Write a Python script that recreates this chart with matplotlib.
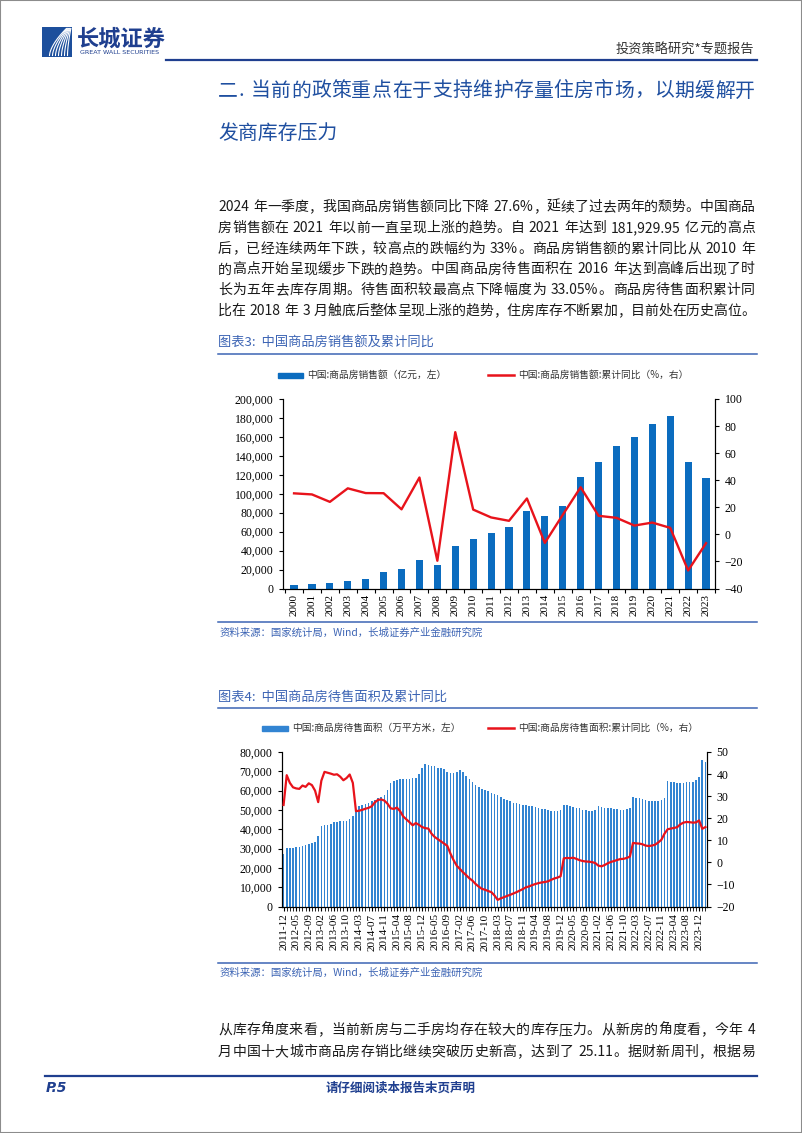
import re
import numpy as np
import matplotlib
matplotlib.use('Agg')
import matplotlib.pyplot as plt
from matplotlib.patches import Rectangle
from matplotlib.lines import Line2D
from matplotlib.ticker import FuncFormatter

plt.rcParams['font.family'] = ['Noto Sans CJK SC', 'DejaVu Sans']

# ---------------- data ----------------
years = [str(y) for y in range(2000, 2024)]
sales = [3935, 4863, 6032, 7956, 10376, 17576, 20826, 29889, 25068, 44355,
         52721, 58589, 64456, 81428, 76292, 87281, 117627, 133701, 149973,
         159725, 173613, 181930, 133308, 116622]
sales_yoy = [30.3, 29.5, 24.0, 34.0, 30.5, 30.4, 18.5, 42.0, -19.5, 75.5,
             18.3, 12.5, 10.0, 26.5, -6.3, 14.4, 34.8, 13.7, 12.2, 6.5,
             8.7, 4.8, -26.7, -6.5]

months = ['2011-12'] + [f'{y}-{m:02d}' for y in range(2012, 2024) for m in range(2, 13)] \
         + ['2024-02', '2024-03']
stock = [27300, 30200, 30300, 30400, 30700, 31000, 31300, 31600, 32200, 32700,
         33500, 36500, 41800, 42000, 42200, 42700, 43500, 44000, 44100, 44100,
         44200, 45400, 47000, 49500, 52000, 52500, 53000, 53700, 54500, 55000,
         56000, 56600, 57500, 60500, 63900, 65000, 65600, 66000, 65900, 66100,
         66200, 66300, 66700, 68600, 71800, 73900, 73400, 72900, 72500, 71900,
         71600, 71000, 69800, 69300, 69100, 69500, 70600, 69400, 67500, 65800,
         64400, 63000, 62000, 61000, 60200, 59600, 58900, 58400, 57600, 56600,
         55800, 55000, 54400, 53800, 53400, 53000, 52600, 52400, 52200, 51800,
         51500, 51000, 50700, 50300, 49900, 49600, 49400, 49200, 49800, 52700,
         52500, 52000, 51600, 51200, 50800, 50200, 49900, 49600, 49600, 49900,
         51800, 51500, 51200, 51000, 50800, 50600, 50300, 50000, 50000, 50300,
         51000, 56700, 56200, 56000, 55600, 55200, 54800, 54600, 54500, 54800,
         55300, 56400, 65200, 64600, 64300, 64200, 64200, 64100, 64300, 64500,
         64300, 65400, 67300, 76000, 74800]
stock_yoy = [26.0, 39.5, 36.0, 34.0, 33.5, 33.3, 34.8, 34.2, 35.8, 35.0,
             32.5, 27.3, 37.0, 41.0, 40.6, 40.2, 39.7, 39.9, 38.8, 37.2,
             38.2, 39.8, 36.0, 23.2, 23.4, 23.8, 24.3, 24.7, 25.4, 27.2,
             28.3, 28.5, 28.0, 26.6, 24.5, 24.2, 24.8, 23.2, 20.8, 19.5,
             18.2, 16.8, 17.8, 17.0, 16.0, 15.5, 15.3, 13.0, 11.5, 10.5,
             9.5, 8.5, 7.5, 4.0, 1.0, -1.5, -3.0, -4.5, -5.8, -7.2,
             -8.3, -9.8, -11.0, -12.0, -12.4, -13.0, -13.5, -15.0, -17.0, -16.3,
             -15.8, -15.2, -14.7, -14.1, -13.5, -12.8, -12.1, -11.3, -10.9, -10.3,
             -9.8, -9.4, -9.1, -8.9, -8.6, -7.9, -7.3, -6.9, -6.3, 1.8,
             2.0, 1.9, 2.1, 1.6, 1.0, 0.6, 0.4, 0.3, 0.1, -0.3,
             -1.5, -1.8, -1.2, -0.4, 0.2, 0.6, 1.1, 1.5, 1.6, 2.0,
             2.6, 8.8, 8.6, 8.5, 8.2, 7.6, 7.4, 7.6, 8.0, 9.0,
             10.2, 13.0, 15.0, 15.3, 15.6, 15.9, 17.2, 18.0, 18.3, 18.2,
             18.0, 18.1, 19.0, 15.2, 16.0]

para1 = [
    '2024 年一季度，我国商品房销售额同比下降 27.6%，延续了过去两年的颓势。中国商品',
    '房销售额在 2021 年以前一直呈现上涨的趋势。自 2021 年达到 181,929.95 亿元的高点',
    '后，已经连续两年下跌，较高点的跌幅约为 33%。商品房销售额的累计同比从 2010 年',
    '的高点开始呈现缓步下跌的趋势。中国商品房待售面积在 2016 年达到高峰后出现了时',
    '长为五年去库存周期。待售面积较最高点下降幅度为 33.05%。商品房待售面积累计同',
    '比在 2018 年 3 月触底后整体呈现上涨的趋势，住房库存不断累加，目前处在历史高位。',
]
para2 = [
    '从库存角度来看，当前新房与二手房均存在较大的库存压力。从新房的角度看，今年 4',
    '月中国十大城市商品房存销比继续突破历史新高，达到了 25.11。据财新周刊，根据易',
]

# ---------------- page ----------------
W, H = 802, 1133
NAVY = '#1f3f8f'
TBLUE = '#3c64b4'
BAR1 = '#0b6cbf'
BAR2 = '#3284d2'
RED = '#e8131b'
SERIF = ['Liberation Serif', 'DejaVu Serif']

fig = plt.figure(figsize=(8.02, 11.33), dpi=100)
renderer = fig.canvas.get_renderer()


def fx(x):
    return x / W


def fy(y):
    return 1 - y / H


def hline(x0, x1, y, color, lw):
    fig.add_artist(Line2D([fx(x0), fx(x1)], [fy(y), fy(y)], color=color, lw=lw))


def justify(line, y, x0=218, x1=755, size=10, color='#1a1a1a', weight='normal'):
    tokens = re.findall(r'[0-9A-Za-z.,%]+| |.', line)
    texts, widths = [], []
    for t in tokens:
        if t == ' ':
            texts.append(None)
            widths.append(size * 0.3 * 100 / 72)
            continue
        tx = fig.text(0, fy(y), t, fontsize=size, color=color, va='center', ha='left',
                      fontweight=weight)
        texts.append(tx)
        widths.append(tx.get_window_extent(renderer).width)
    slack = (x1 - x0) - sum(widths)
    gap = slack / max(len(tokens) - 1, 1)
    x = x0
    for tx, w in zip(texts, widths):
        if tx is not None:
            tx.set_x(fx(x))
        x += w + gap


# border
fig.add_artist(Rectangle((0, 0), 1, 1, transform=fig.transFigure, fill=False,
                         ec='#8c8c8c', lw=1.5))

# logo
lax = fig.add_axes([fx(42), fy(57), fx(30), 30 / H])
lax.set_xlim(0, 1)
lax.set_ylim(0, 1)
lax.axis('off')
lax.add_patch(Rectangle((0, 0), 1, 1, color='#1d4f9c'))
t = np.linspace(0, 1, 30)
for k in range(7):
    off = 0.25 + k * 0.1
    lax.plot(off + 0.75 * t ** 1.6 * (1 - off), 0.05 + 0.9 * t, color='white', lw=0.8)
fig.text(fx(77), fy(39), '长城证券', fontsize=16, fontweight='bold', color=NAVY,
         va='center', ha='left')
fig.text(fx(80), fy(53), 'GREAT WALL SECURITIES', fontsize=4.6, color=NAVY,
         va='center', ha='left', family=['DejaVu Sans'])
fig.text(fx(754), fy(50), '投资策略研究*专题报告', fontsize=9.5, color='#333333',
         va='center', ha='right')
hline(166, 757, 59.5, NAVY, 1.6)

# heading
justify('二. 当前的政策重点在于支持维护存量住房市场，以期缓解开', 91, size=14.3,
        color='#1f4fa0', weight='medium')
fig.text(fx(218), fy(133), '发商库存压力', fontsize=14.3, color='#1f4fa0',
         fontweight='medium', va='center', ha='left')

for i, line in enumerate(para1):
    justify(line, 207 + i * 20.8)

# ---------------- chart 1 ----------------
fig.text(fx(218), fy(342), '图表3:  中国商品房销售额及累计同比', fontsize=9.5,
         color=TBLUE, va='center', ha='left')
hline(218, 757, 353.5, TBLUE, 1.1)
fig.add_artist(Rectangle((fx(278), fy(378)), fx(25), 5.5 / H, transform=fig.transFigure,
                         color=BAR1))
fig.text(fx(307), fy(375), '中国:商品房销售额（亿元，左）', fontsize=7, color='#333333',
         va='center', ha='left')
hline(488, 514, 375, RED, 1.8)
fig.text(fx(518), fy(375), '中国:商品房销售额:累计同比（%，右）', fontsize=7,
         color='#333333', va='center', ha='left')

ax1 = fig.add_axes([fx(283.3), fy(588.5), fx(715 - 283.3), (588.5 - 399) / H])
xs = np.arange(len(years))
ax1.bar(xs, sales, width=0.4, color=BAR1, zorder=2)
ax1.set_ylim(0, 200000)
ax1.set_yticks(range(0, 200001, 20000))
ax1.yaxis.set_major_formatter(FuncFormatter(lambda v, p: f'{int(v):,}'))
ax1.set_xlim(-0.6, 23.45)
ax1.set_xticks(xs)
ax1.set_xticklabels(years, rotation=90)
ax1.set_xticks(np.arange(-0.5, 24, 1), minor=True)
ax1.tick_params(axis='x', which='major', length=0, pad=4, labelsize=8,
                labelfontfamily=SERIF)
ax1.tick_params(axis='x', which='minor', length=3, width=0.8)
ax1.tick_params(axis='y', length=3, width=0.8, labelsize=8.5, labelfontfamily=SERIF,
                pad=4)
ax1.spines['top'].set_visible(False)

ax1b = ax1.twinx()
ax1b.plot(xs, sales_yoy, color=RED, lw=1.7, zorder=3)
ax1b.set_ylim(-40, 100)
ax1b.set_yticks(range(-40, 101, 20))
ax1b.tick_params(axis='y', length=3, width=0.8, labelsize=8.5, labelfontfamily=SERIF,
                 pad=4)
ax1b.spines['top'].set_visible(False)

hline(218, 757, 622, TBLUE, 1.1)
fig.text(fx(220), fy(633), '资料来源：国家统计局，Wind，长城证券产业金融研究院',
         fontsize=7.5, color=TBLUE, va='center', ha='left')

# ---------------- chart 2 ----------------
fig.text(fx(218), fy(697), '图表4:  中国商品房待售面积及累计同比', fontsize=9.5,
         color=TBLUE, va='center', ha='left')
hline(218, 757, 708, TBLUE, 1.1)
fig.add_artist(Rectangle((fx(262), fy(731)), fx(26), 5.5 / H, transform=fig.transFigure,
                         color=BAR2))
fig.text(fx(292), fy(728), '中国:商品房待售面积（万平方米，左）', fontsize=7,
         color='#333333', va='center', ha='left')
hline(488, 514, 728, RED, 1.8)
fig.text(fx(518), fy(728), '中国:商品房待售面积:累计同比（%，右）', fontsize=7,
         color='#333333', va='center', ha='left')

ax2 = fig.add_axes([fx(282), fy(906.5), fx(707 - 282), (906.5 - 752) / H])
xm = np.arange(len(months))
ax2.bar(xm, stock, width=0.5, color=BAR2, lw=0, zorder=2)
ax2.set_ylim(0, 80000)
ax2.set_yticks(range(0, 80001, 10000))
ax2.yaxis.set_major_formatter(FuncFormatter(lambda v, p: f'{int(v):,}'))
ax2.set_xlim(-0.5, len(months) - 0.5)
ax2.set_xticks(xm[::4])
ax2.set_xticklabels(months[::4], rotation=90)
ax2.set_xticks(xm, minor=True)
ax2.tick_params(axis='x', which='major', length=3, width=0.8, pad=2, labelsize=8,
                labelfontfamily=SERIF)
ax2.tick_params(axis='x', which='minor', length=3, width=0.6)
ax2.tick_params(axis='y', length=3, width=0.8, labelsize=8.5, labelfontfamily=SERIF,
                pad=4)
ax2.spines['top'].set_visible(False)

ax2b = ax2.twinx()
ax2b.plot(xm, stock_yoy, color=RED, lw=1.6, zorder=3)
ax2b.set_ylim(-20, 50)
ax2b.set_yticks(range(-20, 51, 10))
ax2b.tick_params(axis='y', length=3, width=0.8, labelsize=8.5, labelfontfamily=SERIF,
                 pad=4)
ax2b.spines['top'].set_visible(False)

hline(218, 757, 963, TBLUE, 1.1)
fig.text(fx(220), fy(973), '资料来源：国家统计局，Wind，长城证券产业金融研究院',
         fontsize=7.5, color=TBLUE, va='center', ha='left')

for i, line in enumerate(para2):
    justify(line, 1030 + i * 22)

# footer
hline(45, 757, 1076, NAVY, 1.6)
fig.text(fx(46), fy(1088), 'P.5', fontsize=10, fontweight='bold', style='italic',
         color=NAVY, va='center', ha='left', family=['DejaVu Sans'])
fig.text(fx(401), fy(1088), '请仔细阅读本报告末页声明', fontsize=9, fontweight='bold',
         color=NAVY, va='center', ha='center')

fig.savefig('out.png', dpi=100)
